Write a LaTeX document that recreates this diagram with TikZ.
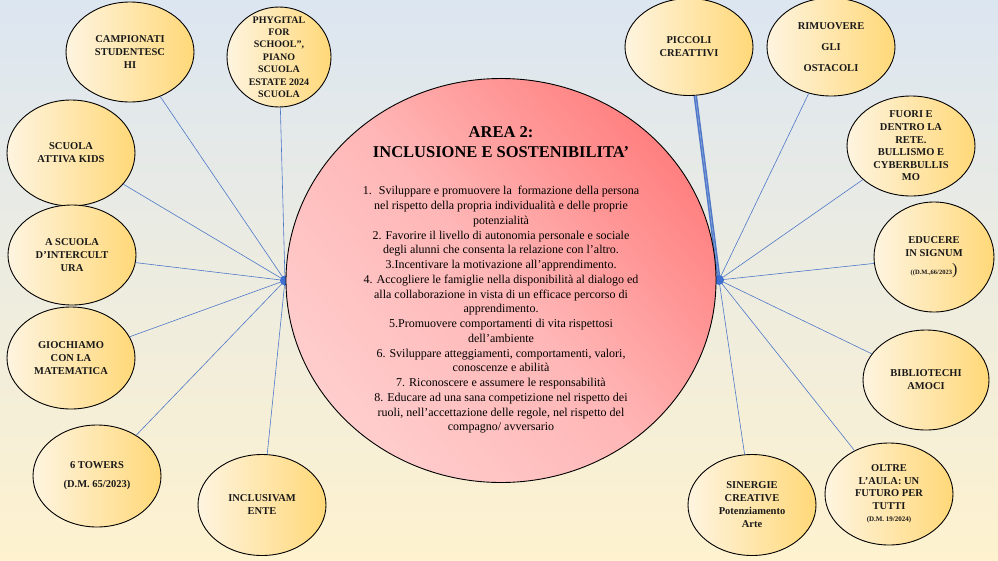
\documentclass[tikz,border=0pt]{standalone}
\usepackage{fontspec}
\setmainfont{Liberation Serif}
\usetikzlibrary{shapes.geometric}
\definecolor{bgTop}{HTML}{DCE6F1}
\definecolor{bgBot}{HTML}{FEF2CF}
\definecolor{ellL}{HTML}{FEF4E0}
\definecolor{ellR}{HTML}{FFD878}
\definecolor{pinkL}{HTML}{FFCDCD}
\definecolor{pinkD}{HTML}{FF8080}
\definecolor{lineblue}{HTML}{4F78C8}
\definecolor{hubblue}{HTML}{3E6FD0}
\newcommand\bub[6][]{%
  \node[bubble, minimum width=#4pt, minimum height=#5pt] (#2) at (#3) {};
  \node[btext,#1] at (#3) {#6};}
\begin{document}
\begin{tikzpicture}[x=1pt,y=-1pt,
  bubble/.style={ellipse, draw=black, line width=0.9pt, left color=ellL, right color=ellR, inner sep=0pt},
  btext/.style={align=center, inner sep=0pt, font=\fontsize{10.5}{13}\selectfont\bfseries, text=black!90},
  link/.style={lineblue, line width=0.6pt},
  hubdot/.style={circle, fill=hubblue, minimum size=10pt, inner sep=0pt}]
\fill[top color=bgTop, bottom color=bgBot] (0,0) rectangle (998,560);
\useasboundingbox (0,0) rectangle (998,560);

% left bubbles
\bub{camp}{130,52}{128}{100}{CAMPIONATI\\STUDENTESC\\HI}
\bub[font=\fontsize{10}{12.4}\selectfont\bfseries]{phyg}{279,57}{104}{100}{PHYGITAL\\FOR\\SCHOOL”,\\PIANO\\SCUOLA\\ESTATE 2024\\SCUOLA}
\bub{kids}{71,153}{128}{106}{SCUOLA\\ATTIVA KIDS}
\bub{inter}{72,255}{128}{100}{A SCUOLA\\D’INTERCULT\\URA}
\bub{gioc}{71,358}{128}{102}{GIOCHIAMO\\CON LA\\MATEMATICA}
\bub{tow}{97,476}{128}{102}{6 TOWERS\\[6pt](D.M. 65/2023)}
\bub{incl}{262,505}{128}{101}{INCLUSIVAM\\ENTE}
% right bubbles
\bub{picc}{689,47}{128}{97}{PICCOLI\\CREATTIVI}
\bub[font=\fontsize{10.5}{21}\selectfont\bfseries]{rim}{831,47}{128}{98}{RIMUOVERE\\GLI\\OSTACOLI}
\bub[font=\fontsize{10.5}{12.6}\selectfont\bfseries]{fuori}{911,146}{128}{100}{FUORI E\\DENTRO LA\\RETE.\\BULLISMO E\\CYBERBULLIS\\MO}
\bub{edu}{934,257}{120}{110}{EDUCERE\\IN SIGNUM\\[5pt]{\fontsize{6.5}{8}\selectfont ((D.M.,66/2023}{\fontsize{16}{16}\selectfont\mdseries )}}
\bub{bib}{926,380}{126}{100}{BIBLIOTECHI\\AMOCI}
\bub{sin}{752,505}{128}{101}{SINERGIE\\CREATIVE\\Potenziamento\\Arte}
\bub[font=\fontsize{10.5}{12.5}\selectfont\bfseries]{oltre}{889,494}{128}{102}{OLTRE\\L’AULA: UN\\FUTURO PER\\TUTTI\\{\fontsize{7}{9}\selectfont (D.M. 19/2024)}}

% hubs
\coordinate (hL) at (285,280.5);
\coordinate (hR) at (719,280);

% connectors
\foreach \t in {camp,phyg,kids,inter,gioc,tow,incl}
  \draw[link] (hL) -- (\t);
\foreach \t in {rim,fuori,edu,bib,sin,oltre}
  \draw[link] (hR) -- (\t);
\draw[lineblue, line width=1.5pt, double=lineblue!60!white, double distance=0.5pt] (hR) -- (picc);

\node[hubdot] (dotL) at (hL) {};
\node[hubdot] (dotR) at (hR) {};

% central circle
\node[ellipse, draw=black, line width=0.9pt, minimum width=430pt, minimum height=404pt, inner sep=0pt,
  top color=pinkD, bottom color=pinkL, middle color=pinkL!70!pinkD, shading angle=-50] (main) at (501,280.5) {};

\node[align=center, inner sep=0pt, font=\fontsize{16.5}{20}\selectfont\bfseries] (title) at (501,142)
  {AREA 2:\\INCLUSIONE E SOSTENIBILITA’};
\node[align=center, inner sep=0pt, font=\fontsize{12}{14.75}\selectfont] (body) at (501,310)
  {1.~ Sviluppare e promuovere la~ formazione della persona\\
   nel rispetto della propria individualità e delle proprie\\
   potenzialità\\
   2. Favorire il livello di autonomia personale e sociale\\
   degli alunni che consenta la relazione con l’altro.\\
   3.Incentivare la motivazione all’apprendimento.\\
   4. Accogliere le famiglie nella disponibilità al dialogo ed\\
   alla collaborazione in vista di un efficace percorso di\\
   apprendimento.\\
   5.Promuovere comportamenti di vita rispettosi\\
   dell’ambiente\\
   6. Sviluppare atteggiamenti, comportamenti, valori,\\
   conoscenze e abilità\\
   7. Riconoscere e assumere le responsabilità\\
   8. Educare ad una sana competizione nel rispetto dei\\
   ruoli, nell’accettazione delle regole, nel rispetto del\\
   compagno/ avversario};
\end{tikzpicture}
\end{document}
